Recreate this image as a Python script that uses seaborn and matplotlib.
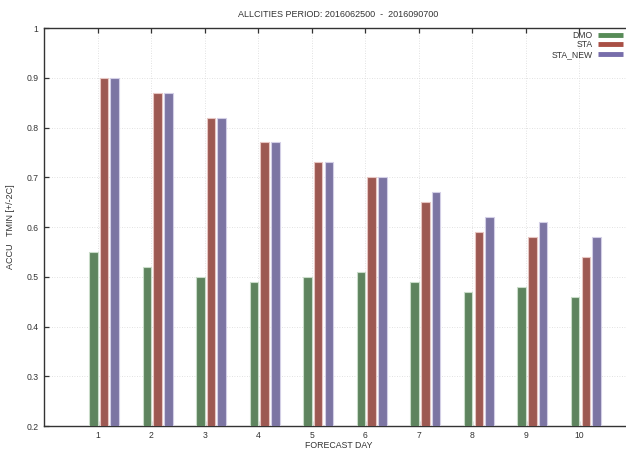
import numpy as np
import pandas as pd
import matplotlib
matplotlib.use("Agg")
import matplotlib.pyplot as plt
from matplotlib.lines import Line2D
from matplotlib.ticker import FormatStrFormatter
import seaborn as sns

days = [1, 2, 3, 4, 5, 6, 7, 8, 9, 10]
series_names = ["DMO", "STA", "STA_NEW"]
dmo = [0.55, 0.52, 0.50, 0.49, 0.50, 0.51, 0.49, 0.47, 0.48, 0.46]
sta = [0.90, 0.87, 0.82, 0.77, 0.73, 0.70, 0.65, 0.59, 0.58, 0.54]
sta_new = [0.90, 0.87, 0.82, 0.77, 0.73, 0.70, 0.67, 0.62, 0.61, 0.58]
colors = ["#578b57", "#a94f45", "#776dab"]
edge_colors = ["#c9dcc9", "#e7c6c2", "#d3cfe6"]
title = "ALLCITIES PERIOD: 2016062500  -  2016090700"
xlabel = "FORECAST DAY"
ylabel = "ACCU   TMIN [+/-2C]"

sns.set_theme(style="white")
plt.rcParams["font.family"] = ["Liberation Sans", "DejaVu Sans"]

group_shift = 0.12
rows = []
for name, vals in zip(series_names, [dmo, sta, sta_new]):
    for d, v in zip(days, vals):
        rows.append({"pos": d + group_shift, "value": v, "series": name})
df = pd.DataFrame(rows)

fig = plt.figure(figsize=(6.26, 4.5), dpi=100)
ax_bottom_px = 426
ax = fig.add_axes([44 / 626, (450 - ax_bottom_px) / 450, 589 / 626, (ax_bottom_px - 28) / 450])

sns.barplot(data=df, x="pos", y="value", hue="series", hue_order=series_names,
            palette=colors, native_scale=True, width=0.6, gap=0.2,
            dodge=True, legend=False, ax=ax, zorder=3)

# light outlines
for container, ec in zip(ax.containers, edge_colors):
    for patch in container:
        patch.set_edgecolor(ec)
        patch.set_linewidth(0.8)

ax.set_xlim(0, 11)
ax.set_ylim(0.2, 1.0)
ax.set_xticks(days)
ax.set_xticklabels([str(d) for d in days])
ax.set_yticks(np.arange(0.2, 1.01, 0.1))
ax.yaxis.set_major_formatter(FormatStrFormatter("%g"))

ax.grid(True, color="#d8d8d8", linestyle=(0, (1, 2)), linewidth=0.6, zorder=0)
ax.set_axisbelow(True)

for s in ["left", "bottom", "top"]:
    ax.spines[s].set_visible(True)
    ax.spines[s].set_color("#333333")
    ax.spines[s].set_linewidth(1.0)
ax.spines["right"].set_visible(False)

ax.tick_params(axis="x", direction="in", length=3.6, width=0.9, color="#333333",
               labelsize=6.2, labelcolor="#333333", pad=3.5, top=True, bottom=True)
ax.tick_params(axis="y", direction="in", length=3.6, width=0.9, color="#333333",
               labelsize=6.2, labelcolor="#333333", pad=4, left=True, right=False)

ax.set_xlabel(xlabel, fontsize=6.3, color="#333333", va="top")
ax.xaxis.set_label_coords(0.5, -(441 - ax_bottom_px) / (ax_bottom_px - 28))
ax.set_ylabel(ylabel, fontsize=6.5, color="#333333", labelpad=8)
ax.set_title(title, fontsize=6.5, color="#333333", pad=8)

handles = [Line2D([0], [0], color=c, lw=3.5, solid_capstyle="butt") for c in colors]
leg = ax.legend(handles, series_names, loc="upper right",
                bbox_to_anchor=(623 / 626, 1 - 31 / 450), bbox_transform=fig.transFigure,
                frameon=False, fontsize=6.2, markerfirst=False, handlelength=2.9,
                handletextpad=0.6, labelspacing=0.05, borderpad=0, borderaxespad=0)
for t in leg.get_texts():
    t.set_color("#333333")

fig.savefig("out.png", dpi=100)
